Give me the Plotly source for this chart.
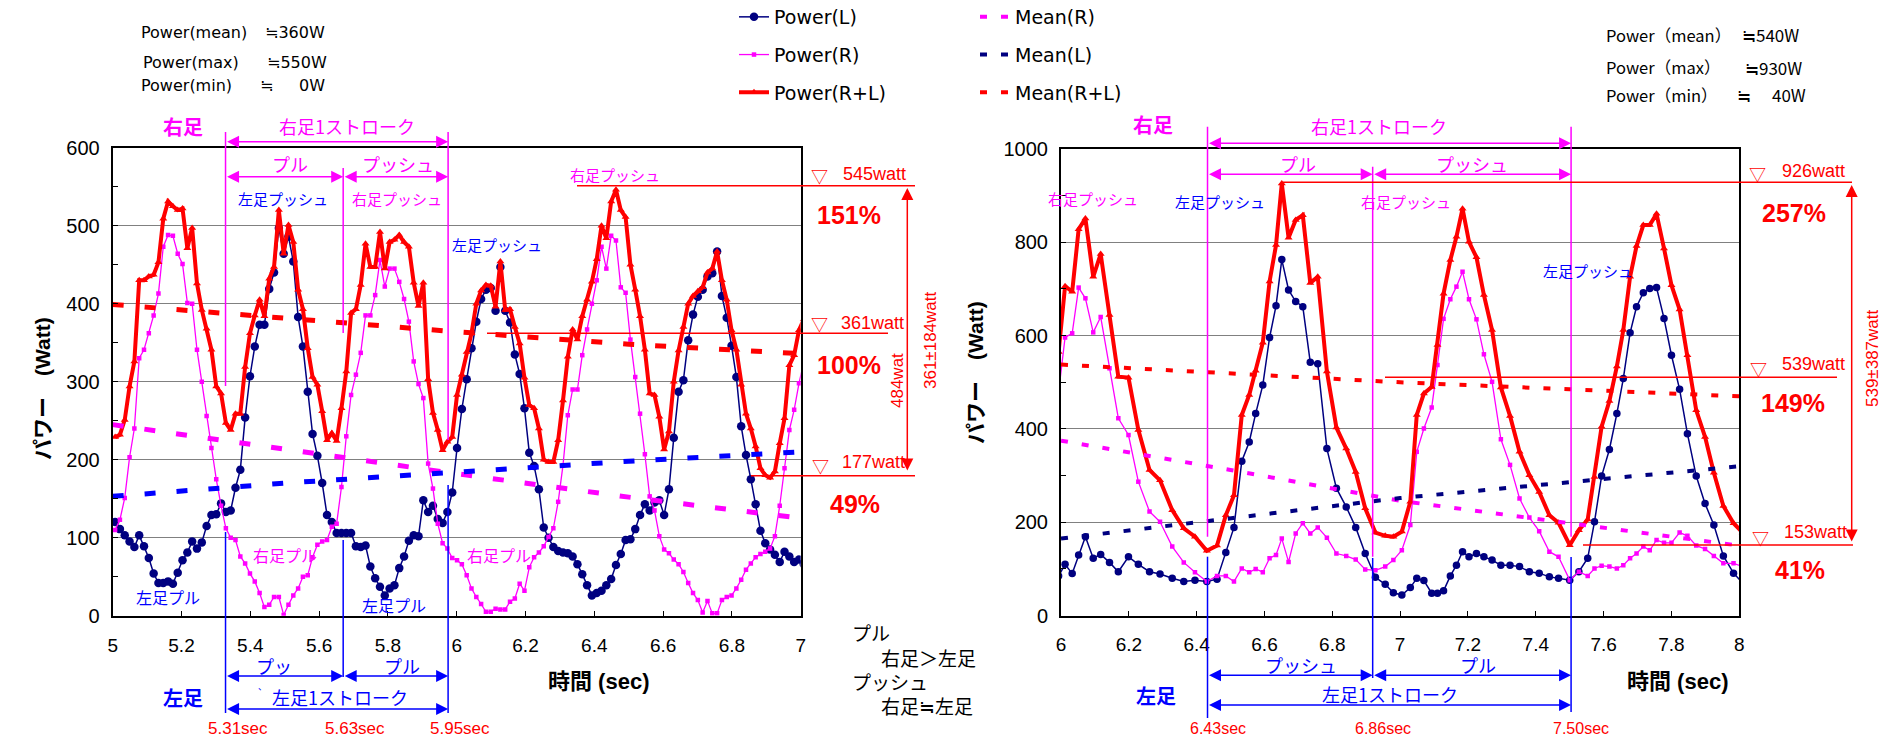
import plotly.graph_objects as go

W, H = 1887, 738

JP = "Noto Sans CJK JP"
EN = "Liberation Sans"
DV = "DejaVu Sans"
MIX = "Liberation Sans, Noto Sans CJK JP"
NAVY = "#000080"
MAG = "#FF00FF"
RED = "#FF0000"
BLUE = "#0000FF"

# ---------------- data: left chart (5 - 7 s), samples every 0.014 s ----------------
left_t0 = 5.007
left_dt = 0.014
left_L = [120, 111, 103, 95, 88, 103, 89, 74, 54, 42,
          42, 44, 41, 55, 71, 81, 95, 86, 94, 115,
          129, 130, 144, 133, 135, 164, 187, 254, 307, 345,
          373, 373, 419, 440, 497, 464, 486, 454, 383, 345,
          287, 233, 205, 170, 129, 120, 106, 106, 106, 106,
          89, 88, 90, 63, 48, 37, 26, 35, 39, 61,
          76, 96, 103, 102, 148, 133, 141, 124, 119, 133,
          158, 215, 265, 303, 343, 377, 406, 418, 420, 391,
          447, 391, 376, 335, 310, 266, 209, 192, 162, 113,
          100, 88, 83, 81, 80, 76, 66, 53, 39, 26,
          29, 32, 39, 47, 65, 79, 97, 98, 111, 129,
          143, 135, 145, 148, 129, 162, 228, 287, 302, 353,
          386, 409, 418, 435, 439, 467, 410, 382, 346, 306,
          243, 206, 175, 143, 109, 93, 85, 78, 69, 82,
          76, 69, 72, 66]
left_R = [110, 123, 151, 203, 240, 330, 341, 362, 385, 413,
          473, 488, 487, 464, 451, 401, 400, 341, 300, 256,
          215, 175, 141, 112, 100, 97, 76, 67, 54, 44,
          29, 11, 14, 24, 24, 1, 14, 26, 35, 50,
          52, 75, 91, 95, 97, 114, 118, 165, 230, 283,
          309, 337, 385, 385, 411, 456, 422, 445, 445, 428,
          406, 377, 326, 297, 279, 195, 163, 118, 93, 86,
          74, 71, 66, 52, 35, 24, 15, 5, 5, 9,
          8, 8, 18, 22, 41, 32, 62, 75, 81, 89,
          101, 112, 146, 193, 257, 290, 290, 334, 367, 400,
          430, 473, 445, 487, 481, 421, 414, 354, 306, 259,
          207, 153, 135, 102, 85, 80, 72, 66, 56, 42,
          29, 20, 4, 19, 3, 3, 20, 24, 26, 35,
          46, 59, 67, 75, 79, 82, 86, 102, 141, 189,
          238, 264, 298, 325]
left_RL = [229, 232, 251, 294, 326, 430, 430, 435, 437, 453,
           509, 531, 525, 520, 522, 471, 497, 426, 392, 368,
           341, 294, 285, 247, 238, 259, 259, 319, 362, 385,
           405, 384, 432, 447, 520, 464, 501, 479, 418, 393,
           343, 306, 296, 262, 225, 234, 224, 266, 313, 388,
           393, 424, 477, 447, 447, 492, 445, 479, 482, 488,
           479, 473, 427, 397, 427, 303, 260, 238, 212, 223,
           229, 283, 309, 338, 362, 400, 417, 424, 423, 396,
           454, 392, 393, 370, 349, 305, 270, 266, 240, 200,
           197, 197, 225, 276, 332, 367, 354, 384, 405, 428,
           457, 500, 484, 531, 546, 520, 511, 450, 418, 384,
           341, 285, 283, 255, 213, 236, 300, 340, 370, 400,
           410, 416, 421, 440, 445, 467, 430, 405, 366, 341,
           296, 259, 240, 217, 189, 180, 177, 185, 221, 253,
           321, 334, 366, 380]
left_time = [round(left_t0 + left_dt * i, 3) for i in range(len(left_L))]

left_mean_t = [5.0, 5.5, 6.0, 6.5, 7.0]
left_mean_R = [245, 213, 182, 152, 125]
left_mean_L = [153, 170, 184, 198, 210]
left_mean_RL = [399, 381, 364, 348, 336]

# ---------------- data: right chart (6 - 8 s) ----------------
right_time = [5.993, 6.012, 6.033, 6.052, 6.072, 6.095, 6.117, 6.143, 6.169, 6.199,
              6.228, 6.261, 6.292, 6.328, 6.362, 6.395, 6.430, 6.460, 6.486, 6.510,
              6.533, 6.555, 6.574, 6.595, 6.615, 6.634, 6.651, 6.671, 6.692, 6.713,
              6.735, 6.757, 6.784, 6.812, 6.841, 6.869, 6.897, 6.927, 6.956, 6.980,
              7.005, 7.030, 7.049, 7.070, 7.093, 7.110, 7.128, 7.148, 7.166, 7.184,
              7.203, 7.225, 7.247, 7.271, 7.297, 7.324, 7.352, 7.381, 7.410, 7.440,
              7.467, 7.500, 7.527, 7.553, 7.573, 7.594, 7.617, 7.639, 7.658, 7.678,
              7.697, 7.717, 7.736, 7.756, 7.778, 7.800, 7.824, 7.847, 7.873, 7.899,
              7.925, 7.953, 7.983, 8.010]
right_L = [85, 110, 90, 130, 169, 123, 131, 114, 94, 126,
           110, 94, 89, 80, 73, 76, 73, 78, 135, 189,
           331, 372, 433, 494, 596, 664, 763, 698, 673, 662,
           543, 540, 358, 273, 233, 189, 133, 82, 67, 49,
           44, 60, 80, 75, 48, 48, 53, 85, 108, 137,
           126, 133, 126, 119, 108, 108, 105, 94, 91, 83,
           80, 76, 94, 123, 201, 299, 356, 433, 508, 606,
           662, 692, 701, 703, 637, 558, 485, 390, 299, 240,
           194, 128, 91, 70]
right_R = [480, 596, 605, 703, 680, 607, 640, 530, 423, 387,
           287, 223, 201, 148, 114, 93, 73, 85, 85, 73,
           101, 93, 100, 93, 123, 130, 165, 115, 176, 198,
           176, 189, 167, 133, 128, 120, 99, 97, 105, 119,
           140, 194, 351, 401, 446, 537, 636, 678, 705, 737,
           678, 635, 560, 501, 378, 323, 251, 210, 181, 137,
           126, 76, 94, 85, 101, 107, 105, 101, 108, 123,
           133, 148, 140, 162, 156, 156, 178, 171, 150, 143,
           128, 112, 112, 105]
right_RL = [565, 706, 694, 828, 851, 726, 775, 644, 512, 510,
            398, 312, 290, 226, 187, 169, 139, 150, 215, 258,
            430, 473, 525, 585, 716, 794, 926, 810, 848, 858,
            713, 726, 523, 403, 358, 308, 230, 178, 171, 169,
            180, 244, 430, 476, 490, 580, 690, 762, 812, 872,
            801, 768, 687, 612, 489, 428, 351, 301, 265, 215,
            199, 151, 183, 206, 297, 405, 460, 534, 612, 726,
            792, 837, 837, 861, 787, 708, 656, 558, 440, 383,
            306, 235, 198, 178]

right_mean_t = [6.0, 6.5, 7.0, 7.5, 8.0]
right_mean_R = [375, 312, 246, 198, 150]
right_mean_L = [165, 209, 252, 286, 320]
right_mean_RL = [538, 518, 500, 485, 470]

# stroke boundaries (sec) used for the annotation lines
left_marks = [5.328, 5.670, 5.975]
right_marks = [6.432, 6.919, 7.504]
left_mark_labels = ["5.31sec", "5.63sec", "5.95sec"]
right_mark_labels = ["6.43sec", "6.86sec", "7.50sec"]

# ---------------- layout geometry (pixels) ----------------
LX0, LX1, LYB, LYT = 112.7, 800.7, 615.7, 147.7
RX0, RX1, RYB, RYT = 1061.0, 1739.3, 615.6, 149.0


def PX(x):
    return x / W


def PY(y):
    return 1 - y / H


def lx(t):
    return LX0 + (t - 5.0) / 2.0 * (LX1 - LX0)


def rx(t):
    return RX0 + (t - 6.0) / 2.0 * (RX1 - RX0)


fig = go.Figure()


def add_series(xs, L, R, RL, xa, ya, show, msize):
    fig.add_trace(go.Scatter(x=xs, y=L, mode="lines+markers", name="Power(L)",
                             line=dict(color=NAVY, width=1.5),
                             marker=dict(symbol="circle", size=msize, color=NAVY),
                             xaxis=xa, yaxis=ya, showlegend=show, legendgroup="g1", legend="legend"))
    fig.add_trace(go.Scatter(x=xs, y=R, mode="lines+markers", name="Power(R)",
                             line=dict(color=MAG, width=1.3),
                             marker=dict(symbol="square", size=4.5, color=MAG),
                             xaxis=xa, yaxis=ya, showlegend=show, legendgroup="g2", legend="legend"))
    fig.add_trace(go.Scatter(x=xs, y=RL, mode="lines+markers", name="Power(R+L)",
                             line=dict(color=RED, width=4),
                             marker=dict(symbol="triangle-up", size=7, color=RED),
                             xaxis=xa, yaxis=ya, showlegend=show, legendgroup="g3", legend="legend"))


def add_means(xs, mR, mL, mRL, xa, ya, show, lcol, width, dash):
    fig.add_trace(go.Scatter(x=xs, y=mR, mode="lines", name="Mean(R)",
                             line=dict(color=MAG, width=width, dash=dash),
                             xaxis=xa, yaxis=ya, showlegend=show, legendgroup="m1", legend="legend2"))
    fig.add_trace(go.Scatter(x=xs, y=mL, mode="lines", name="Mean(L)",
                             line=dict(color=lcol, width=width, dash=dash),
                             xaxis=xa, yaxis=ya, showlegend=show, legendgroup="m2", legend="legend2"))
    fig.add_trace(go.Scatter(x=xs, y=mRL, mode="lines", name="Mean(R+L)",
                             line=dict(color=RED, width=width, dash=dash),
                             xaxis=xa, yaxis=ya, showlegend=show, legendgroup="m3", legend="legend2"))


add_series(left_time, left_L, left_R, left_RL, "x", "y", True, 8.5)
add_series(right_time, right_L, right_R, right_RL, "x2", "y2", False, 7.5)
add_means(left_mean_t, left_mean_R, left_mean_L, left_mean_RL, "x", "y", False, BLUE, 5, "11px,21px")
add_means(right_mean_t, right_mean_R, right_mean_L, right_mean_RL, "x2", "y2", True, NAVY, 4, "7px,14px")

ann = []
shapes = []


def txt(x, y, s, size, color="black", bold=False, family=JP, xanchor="center", angle=0):
    ann.append(dict(x=PX(x), y=PY(y), xref="paper", yref="paper",
                    text=("<b>%s</b>" % s) if bold else s, showarrow=False,
                    font=dict(size=size, color=color, family=family),
                    xanchor=xanchor, yanchor="middle", textangle=angle))


def harrow(x1, x2, y, color):
    ann.append(dict(x=PX(x2), y=PY(y), xref="paper", yref="paper", text="",
                    ax=x1 - x2, ay=0, axref="pixel", ayref="pixel", showarrow=True,
                    arrowhead=2, arrowsize=1.6, arrowwidth=1.5, arrowcolor=color,
                    arrowside="end+start", standoff=0, startstandoff=0))


def varrow(x, y1, y2, color):
    ann.append(dict(x=PX(x), y=PY(y2), xref="paper", yref="paper", text="",
                    ax=0, ay=y1 - y2, axref="pixel", ayref="pixel", showarrow=True,
                    arrowhead=2, arrowsize=1.6, arrowwidth=1.5, arrowcolor=color,
                    arrowside="end+start", standoff=0, startstandoff=0))


def seg(x0, y0, x1, y1, color, width=1.5):
    shapes.append(dict(type="line", xref="paper", yref="paper",
                       x0=PX(x0), x1=PX(x1), y0=PY(y0), y1=PY(y1),
                       line=dict(color=color, width=width)))


# ---------- top info blocks ----------
txt(139, 33, "Power(mean)", 16, family=DV, xanchor="left")
txt(327, 33, "≒360W", 16, family=DV, xanchor="right")
txt(141, 62, "Power(max)", 16, family=DV, xanchor="left")
txt(329, 62, "≒550W", 16, family=DV, xanchor="right")
txt(139, 86, "Power(min)", 16, family=DV, xanchor="left")
txt(266, 86, "≒", 16, family=DV)
txt(327, 86, "0W", 16, family=DV, xanchor="right")

txt(1604, 35, "Power（mean）", 16.5, xanchor="left")
txt(1801, 35, "≒540W", 17, xanchor="right")
txt(1604, 67, "Power（max）", 16.5, xanchor="left")
txt(1804, 67, "≒930W", 17, xanchor="right")
txt(1604, 95, "Power（min）", 16.5, xanchor="left")
txt(1744, 95, "≒", 17)
txt(1808, 95, "40W", 17, xanchor="right")

# ---------- left chart annotations ----------
a, b, c = [lx(t) for t in left_marks]
txt(183, 126, "右足", 20, MAG, bold=True)
txt(347, 126, "右足1ストローク", 18, MAG)
harrow(a, c, 141.7, MAG)
txt(290, 164, "プル", 18, MAG)
txt(398, 164, "プッシュ", 18, MAG)
harrow(a, b, 176.7, MAG)
harrow(b, c, 176.7, MAG)
seg(a, 132, a, 386, MAG)
seg(b, 168, b, 333, MAG)
seg(c, 132, c, 440, MAG)
txt(283, 199, "左足プッシュ", 15, BLUE)
txt(397, 199, "右足プッシュ", 15, MAG)
txt(497, 244, "左足プッシュ", 15, BLUE)
txt(615, 174, "右足プッシュ", 15, MAG)
txt(285, 555, "右足プル", 16, MAG)
txt(499, 555, "右足プル", 16, MAG)
txt(168, 597, "左足プル", 16, BLUE)
txt(394, 605, "左足プル", 16, BLUE)

seg(a, 532, a, 713, BLUE)
seg(b, 540, b, 677, BLUE)
seg(c, 485, c, 713, BLUE)
txt(274, 666, "プッ", 18, BLUE)
txt(262, 686, "、", 9, BLUE)
txt(402, 666, "プル", 18, BLUE)
harrow(a, b, 676, BLUE)
harrow(b, c, 676, BLUE)
txt(183, 697, "左足", 20, BLUE, bold=True)
txt(340, 697, "左足1ストローク", 18, BLUE)
harrow(a, c, 709, BLUE)
for xm, lab in zip((a, b, c), left_mark_labels):
    txt(xm + 12, 728, lab, 17, RED, family=EN)

seg(577, 185.7, 915, 185.7, RED)
txt(819, 175, "▽", 17, RED)
txt(874, 174, "545watt", 18, RED, family=EN)
txt(849, 215, "151%", 25, RED, bold=True, family=EN)
varrow(907.3, 472, 188, RED)
txt(930, 340, "361±184watt", 17, RED, family=EN, angle=-90)
txt(897, 381, "484wat", 17, RED, family=EN, angle=-90)
seg(487, 333.3, 888, 333.3, RED)
txt(819, 323, "▽", 17, RED)
txt(872, 323, "361watt", 18, RED, family=EN)
txt(849, 365, "100%", 25, RED, bold=True, family=EN)
seg(751, 475.7, 915, 475.7, RED)
txt(820, 465, "▽", 17, RED)
txt(873, 462, "177watt", 18, RED, family=EN)
txt(855, 504, "49%", 25, RED, bold=True, family=EN)

txt(42, 389, "パワー　(Watt)", 21, bold=True, family=MIX, angle=-90)
txt(598, 681, "時間 (sec)", 22, bold=True, family=MIX)

# middle notes
txt(850, 632, "プル", 19, xanchor="left")
txt(879, 657, "右足＞左足", 19, xanchor="left")
txt(850, 681, "プッシュ", 19, xanchor="left")
txt(879, 705, "右足≒左足", 19, xanchor="left")

# ---------- right chart annotations ----------
d, e, f = [rx(t) for t in right_marks]
txt(1153, 124, "右足", 20, MAG, bold=True)
txt(1379, 126, "右足1ストローク", 18, MAG)
harrow(d, f, 143.3, MAG)
txt(1298, 164, "プル", 18, MAG)
txt(1472, 164, "プッシュ", 18, MAG)
harrow(d, e, 174.3, MAG)
harrow(e, f, 174.3, MAG)
seg(d, 126.7, d, 536.7, MAG)
seg(e, 166.7, e, 556.7, MAG)
seg(f, 126.7, f, 536.7, MAG)
txt(1093, 198, "右足プッシュ", 15, MAG)
txt(1220, 201, "左足プッシュ", 15, BLUE)
txt(1406, 201, "右足プッシュ", 15, MAG)
txt(1588, 270, "左足プッシュ", 15, BLUE)

seg(d, 556.7, d, 718, BLUE)
seg(e, 558, e, 678, BLUE)
seg(f, 557, f, 712, BLUE)
txt(1301, 665, "プッシュ", 18, BLUE)
txt(1478, 665, "プル", 18, BLUE)
harrow(d, e, 675.3, BLUE)
harrow(e, f, 675.3, BLUE)
txt(1156, 695, "左足", 20, BLUE, bold=True)
txt(1390, 694, "左足1ストローク", 18, BLUE)
harrow(d, f, 705, BLUE)
for xm, lab in zip((d, e, f), right_mark_labels):
    txt(xm + 10, 728, lab, 16, RED, family=EN)

seg(1283, 182.3, 1852, 182.3, RED)
txt(1757, 173, "▽", 17, RED)
txt(1813, 171, "926watt", 18, RED, family=EN)
txt(1794, 213, "257%", 25, RED, bold=True, family=EN)
varrow(1851.7, 543, 185, RED)
txt(1872, 358, "539±387watt", 17, RED, family=EN, angle=-90)
seg(1385, 377.3, 1837, 377.3, RED)
txt(1758, 368, "▽", 17, RED)
txt(1813, 364, "539watt", 18, RED, family=EN)
txt(1793, 403, "149%", 25, RED, bold=True, family=EN)
seg(1583, 545, 1853, 545, RED)
txt(1760, 537, "▽", 17, RED)
txt(1815, 532, "153watt", 18, RED, family=EN)
txt(1800, 570, "41%", 25, RED, bold=True, family=EN)

txt(975, 373, "パワー　(Watt)", 21, bold=True, family=MIX, angle=-90)
txt(1677, 681, "時間 (sec)", 22, bold=True, family=MIX)


def xax(x0, x1, rng, t0):
    return dict(domain=[PX(x0), PX(x1)], range=rng, tick0=t0, dtick=0.2, ticks="inside", ticklen=5,
                tickcolor="black", showline=True, linecolor="black", linewidth=2, mirror=True,
                showgrid=False, zeroline=False, tickfont=dict(family=EN, size=19, color="black"),
                ticklabelstandoff=11, automargin=False)


def yax(yb, yt, rng, dt, anchor):
    return dict(domain=[PY(yb), PY(yt)], range=rng, dtick=dt, ticks="inside", ticklen=5,
                tickcolor="black", showline=True, linecolor="black", linewidth=2, mirror=True,
                showgrid=True, gridcolor="#808080", gridwidth=1.2, zeroline=False,
                minor=dict(dtick=dt / 2, ticks="inside", ticklen=5, tickcolor="black", showgrid=False),
                tickfont=dict(family=EN, size=20, color="black"), ticklabelstandoff=7,
                anchor=anchor, automargin=False)


fig.update_layout(
    width=W, height=H, autosize=False,
    margin=dict(l=0, r=0, t=0, b=0, pad=0, autoexpand=False),
    paper_bgcolor="white", plot_bgcolor="white",
    xaxis=dict(xax(LX0, LX1, [5, 7], 5), anchor="y"),
    yaxis=yax(LYB, LYT, [0, 600], 100, "x"),
    xaxis2=dict(xax(RX0, RX1, [6, 8], 6), anchor="y2"),
    yaxis2=yax(RYB, RYT, [0, 1000], 200, "x2"),
    legend=dict(x=PX(734), y=PY(-2), xanchor="left", yanchor="top",
                bgcolor="rgba(0,0,0,0)", font=dict(family=DV, size=19, color="black"),
                tracegroupgap=10, itemclick=False),
    legend2=dict(x=PX(975), y=PY(-2), xanchor="left", yanchor="top",
                 bgcolor="rgba(0,0,0,0)", font=dict(family=DV, size=19, color="black"),
                 tracegroupgap=10, itemclick=False),
    annotations=ann, shapes=shapes, showlegend=True,
)

fig.write_html("out.html")
